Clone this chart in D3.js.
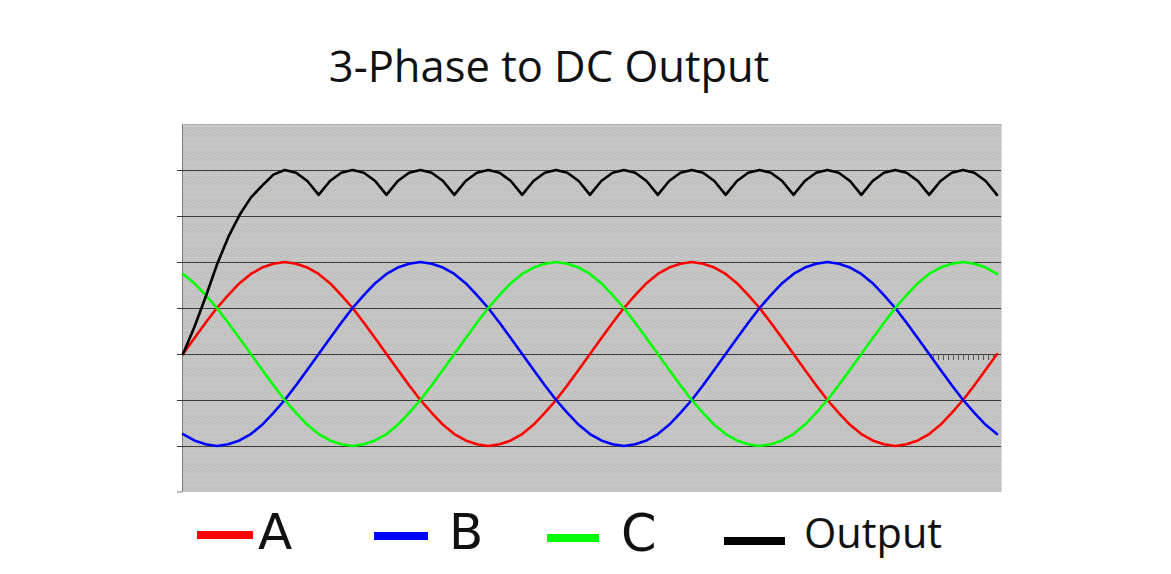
<!DOCTYPE html>
<html>
<head>
<meta charset="utf-8">
<script src="https://cdn.jsdelivr.net/npm/d3@7"></script>
<style>
  html, body { margin: 0; padding: 0; background: #ffffff; }
  svg { display: block; }
</style>
</head>
<body>
<svg id="chart" width="1171" height="574"></svg>
<script>
// ---- data (in units of phase amplitude) ----
const title = "3-Phase to DC Output";
const angleStart = 0, angleEnd = 720, angleStep = 10;   // degrees along the x axis
const gridValues = [-1, -0.5, 0, 0.5, 1, 1.5, 2];

const seriesA = [0,0.17,0.34,0.5,0.64,0.77,0.87,0.94,0.98,1,0.98,0.94,0.87,0.77,0.64,0.5,0.34,0.17,
  0,-0.17,-0.34,-0.5,-0.64,-0.77,-0.87,-0.94,-0.98,-1,-0.98,-0.94,-0.87,-0.77,-0.64,-0.5,-0.34,-0.17,
  0,0.17,0.34,0.5,0.64,0.77,0.87,0.94,0.98,1,0.98,0.94,0.87,0.77,0.64,0.5,0.34,0.17,
  0,-0.17,-0.34,-0.5,-0.64,-0.77,-0.87,-0.94,-0.98,-1,-0.98,-0.94,-0.87,-0.77,-0.64,-0.5,-0.34,-0.17,0];

const seriesB = [-0.87,-0.94,-0.98,-1,-0.98,-0.94,-0.87,-0.77,-0.64,-0.5,-0.34,-0.17,
  0,0.17,0.34,0.5,0.64,0.77,0.87,0.94,0.98,1,0.98,0.94,0.87,0.77,0.64,0.5,0.34,0.17,
  0,-0.17,-0.34,-0.5,-0.64,-0.77,-0.87,-0.94,-0.98,-1,-0.98,-0.94,-0.87,-0.77,-0.64,-0.5,-0.34,-0.17,
  0,0.17,0.34,0.5,0.64,0.77,0.87,0.94,0.98,1,0.98,0.94,0.87,0.77,0.64,0.5,0.34,0.17,
  0,-0.17,-0.34,-0.5,-0.64,-0.77,-0.87];

const seriesC = [0.87,0.77,0.64,0.5,0.34,0.17,0,-0.17,-0.34,-0.5,-0.64,-0.77,
  -0.87,-0.94,-0.98,-1,-0.98,-0.94,-0.87,-0.77,-0.64,-0.5,-0.34,-0.17,
  0,0.17,0.34,0.5,0.64,0.77,0.87,0.94,0.98,1,0.98,0.94,0.87,0.77,0.64,0.5,0.34,0.17,
  0,-0.17,-0.34,-0.5,-0.64,-0.77,-0.87,-0.94,-0.98,-1,-0.98,-0.94,-0.87,-0.77,-0.64,-0.5,-0.34,-0.17,
  0,0.17,0.34,0.5,0.64,0.77,0.87,0.94,0.98,1,0.98,0.94,0.87];

const seriesOutput = [0,0.29,0.62,0.97,1.27,1.51,1.70,1.83,1.95,
  2,1.97,1.88,1.73,1.88,1.97, 2,1.97,1.88,1.73,1.88,1.97,
  2,1.97,1.88,1.73,1.88,1.97, 2,1.97,1.88,1.73,1.88,1.97,
  2,1.97,1.88,1.73,1.88,1.97, 2,1.97,1.88,1.73,1.88,1.97,
  2,1.97,1.88,1.73,1.88,1.97, 2,1.97,1.88,1.73,1.88,1.97,
  2,1.97,1.88,1.73,1.88,1.97, 2,1.97,1.88,1.73,1.88,1.97,
  2,1.97,1.88,1.73];

const seriesNames = ["A", "B", "C", "Output"];
const seriesColors = ["#ff0000", "#0000ff", "#00ff00", "#000000"];

// ---- layout ----
const svg = d3.select("#chart");
const plot = { left: 182, right: 1001, top: 124, bottom: 492 };
const angles = d3.range(angleStart, angleEnd + 1, angleStep);

const x = d3.scaleLinear().domain([angleStart, angleEnd]).range([183, 997]);
const y = d3.scaleLinear().domain([-1.5, 2.5]).range([plot.bottom, plot.top]);

// background texture (dithered grey like the original GIF)
const defs = svg.append("defs");
const pat = defs.append("pattern").attr("id", "speckle")
  .attr("patternUnits", "userSpaceOnUse").attr("width", 8).attr("height", 6);
pat.append("rect").attr("width", 8).attr("height", 6).attr("fill", "#c0c0bf");
[[0,0,"#d4d4e0"],[3,1,"#dad8cc"],[6,2,"#d2d2de"],[1,3,"#d8d6ca"],[4,4,"#d4d4e2"],[7,5,"#d6d4c8"],[2,5,"#cfcfda"],[5,0,"#d8d6cc"]]
  .forEach(([px, py, c]) => pat.append("rect").attr("x", px).attr("y", py).attr("width", 1).attr("height", 1).attr("fill", c));

svg.append("rect")
  .attr("x", plot.left).attr("y", plot.top)
  .attr("width", plot.right - plot.left).attr("height", plot.bottom - plot.top)
  .attr("fill", "url(#speckle)");

// top & right border (faint)
svg.append("line").attr("x1", plot.left).attr("x2", plot.right)
  .attr("y1", plot.top + 0.5).attr("y2", plot.top + 0.5)
  .attr("stroke", "#a0a0a0").attr("stroke-dasharray", "1,1");
svg.append("line").attr("x1", plot.right + 0.5).attr("x2", plot.right + 0.5)
  .attr("y1", plot.top).attr("y2", plot.bottom)
  .attr("stroke", "#d8d8d8");

// horizontal grid lines via the y axis
const yAxis = d3.axisLeft(y)
  .tickValues(gridValues)
  .tickSize(-(plot.right - plot.left))
  .tickFormat("");
const gAxis = svg.append("g")
  .attr("transform", `translate(${plot.left},0)`)
  .call(yAxis);
gAxis.select(".domain")
  .attr("d", `M0.5,${plot.top}V${plot.bottom}`)
  .attr("stroke", "#7a7a7a");
gAxis.selectAll(".tick line")
  .attr("x1", -5)
  .attr("stroke", "#3a3a3a")
  .attr("stroke-width", 1)
  .attr("shape-rendering", "crispEdges");

// bottom edge tick
svg.append("line").attr("x1", plot.left - 5).attr("x2", plot.left)
  .attr("y1", plot.bottom).attr("y2", plot.bottom).attr("stroke", "#7a7a7a");

// small hatch artefact under the zero line at the right end
const hatch = d3.range(933, 996, 5);
svg.append("g").selectAll("line").data(hatch).join("line")
  .attr("x1", d => d + 0.5).attr("x2", d => d + 0.5)
  .attr("y1", y(0)).attr("y2", y(0) + 6)
  .attr("stroke", "#555").attr("stroke-width", 1);

// series lines
const allSeries = [seriesA, seriesB, seriesC, seriesOutput];
const line = d3.line()
  .x((d, i) => x(angles[i]))
  .y(d => y(d))
  .curve(d3.curveLinear);

allSeries.forEach((s, k) => {
  svg.append("path")
    .datum(s)
    .attr("d", line)
    .attr("fill", "none")
    .attr("stroke", seriesColors[k])
    .attr("stroke-width", 2.6)
    .attr("stroke-linejoin", "round")
    .attr("stroke-linecap", "round");
});

// title
svg.append("text")
  .attr("x", 549).attr("y", 82)
  .attr("text-anchor", "middle")
  .attr("font-family", "'Open Sans', sans-serif")
  .attr("font-size", 43.5)
  .attr("fill", "#111")
  .text(title);

// legend
const legendSwatch = [[197, 253], [374, 428], [547, 599], [724, 785]];
const legendSwatchY = [535, 536, 538, 541];
const legendTextX = [258, 449, 621, 804];
const legendTextY = [549, 549, 551, 548];
const legendFont = [
  { family: "'DejaVu Sans', sans-serif", size: 50 },
  { family: "'DejaVu Sans', sans-serif", size: 50 },
  { family: "'DejaVu Sans', sans-serif", size: 51 },
  { family: "'Open Sans', sans-serif", size: 41.5 }
];
seriesNames.forEach((name, k) => {
  svg.append("rect")
    .attr("x", legendSwatch[k][0]).attr("y", legendSwatchY[k] - 4)
    .attr("width", legendSwatch[k][1] - legendSwatch[k][0]).attr("height", 8)
    .attr("fill", seriesColors[k]);
  svg.append("text")
    .attr("x", legendTextX[k]).attr("y", legendTextY[k])
    .attr("font-family", legendFont[k].family)
    .attr("font-size", legendFont[k].size)
    .attr("fill", "#111")
    .text(name);
});
</script>
</body>
</html>
